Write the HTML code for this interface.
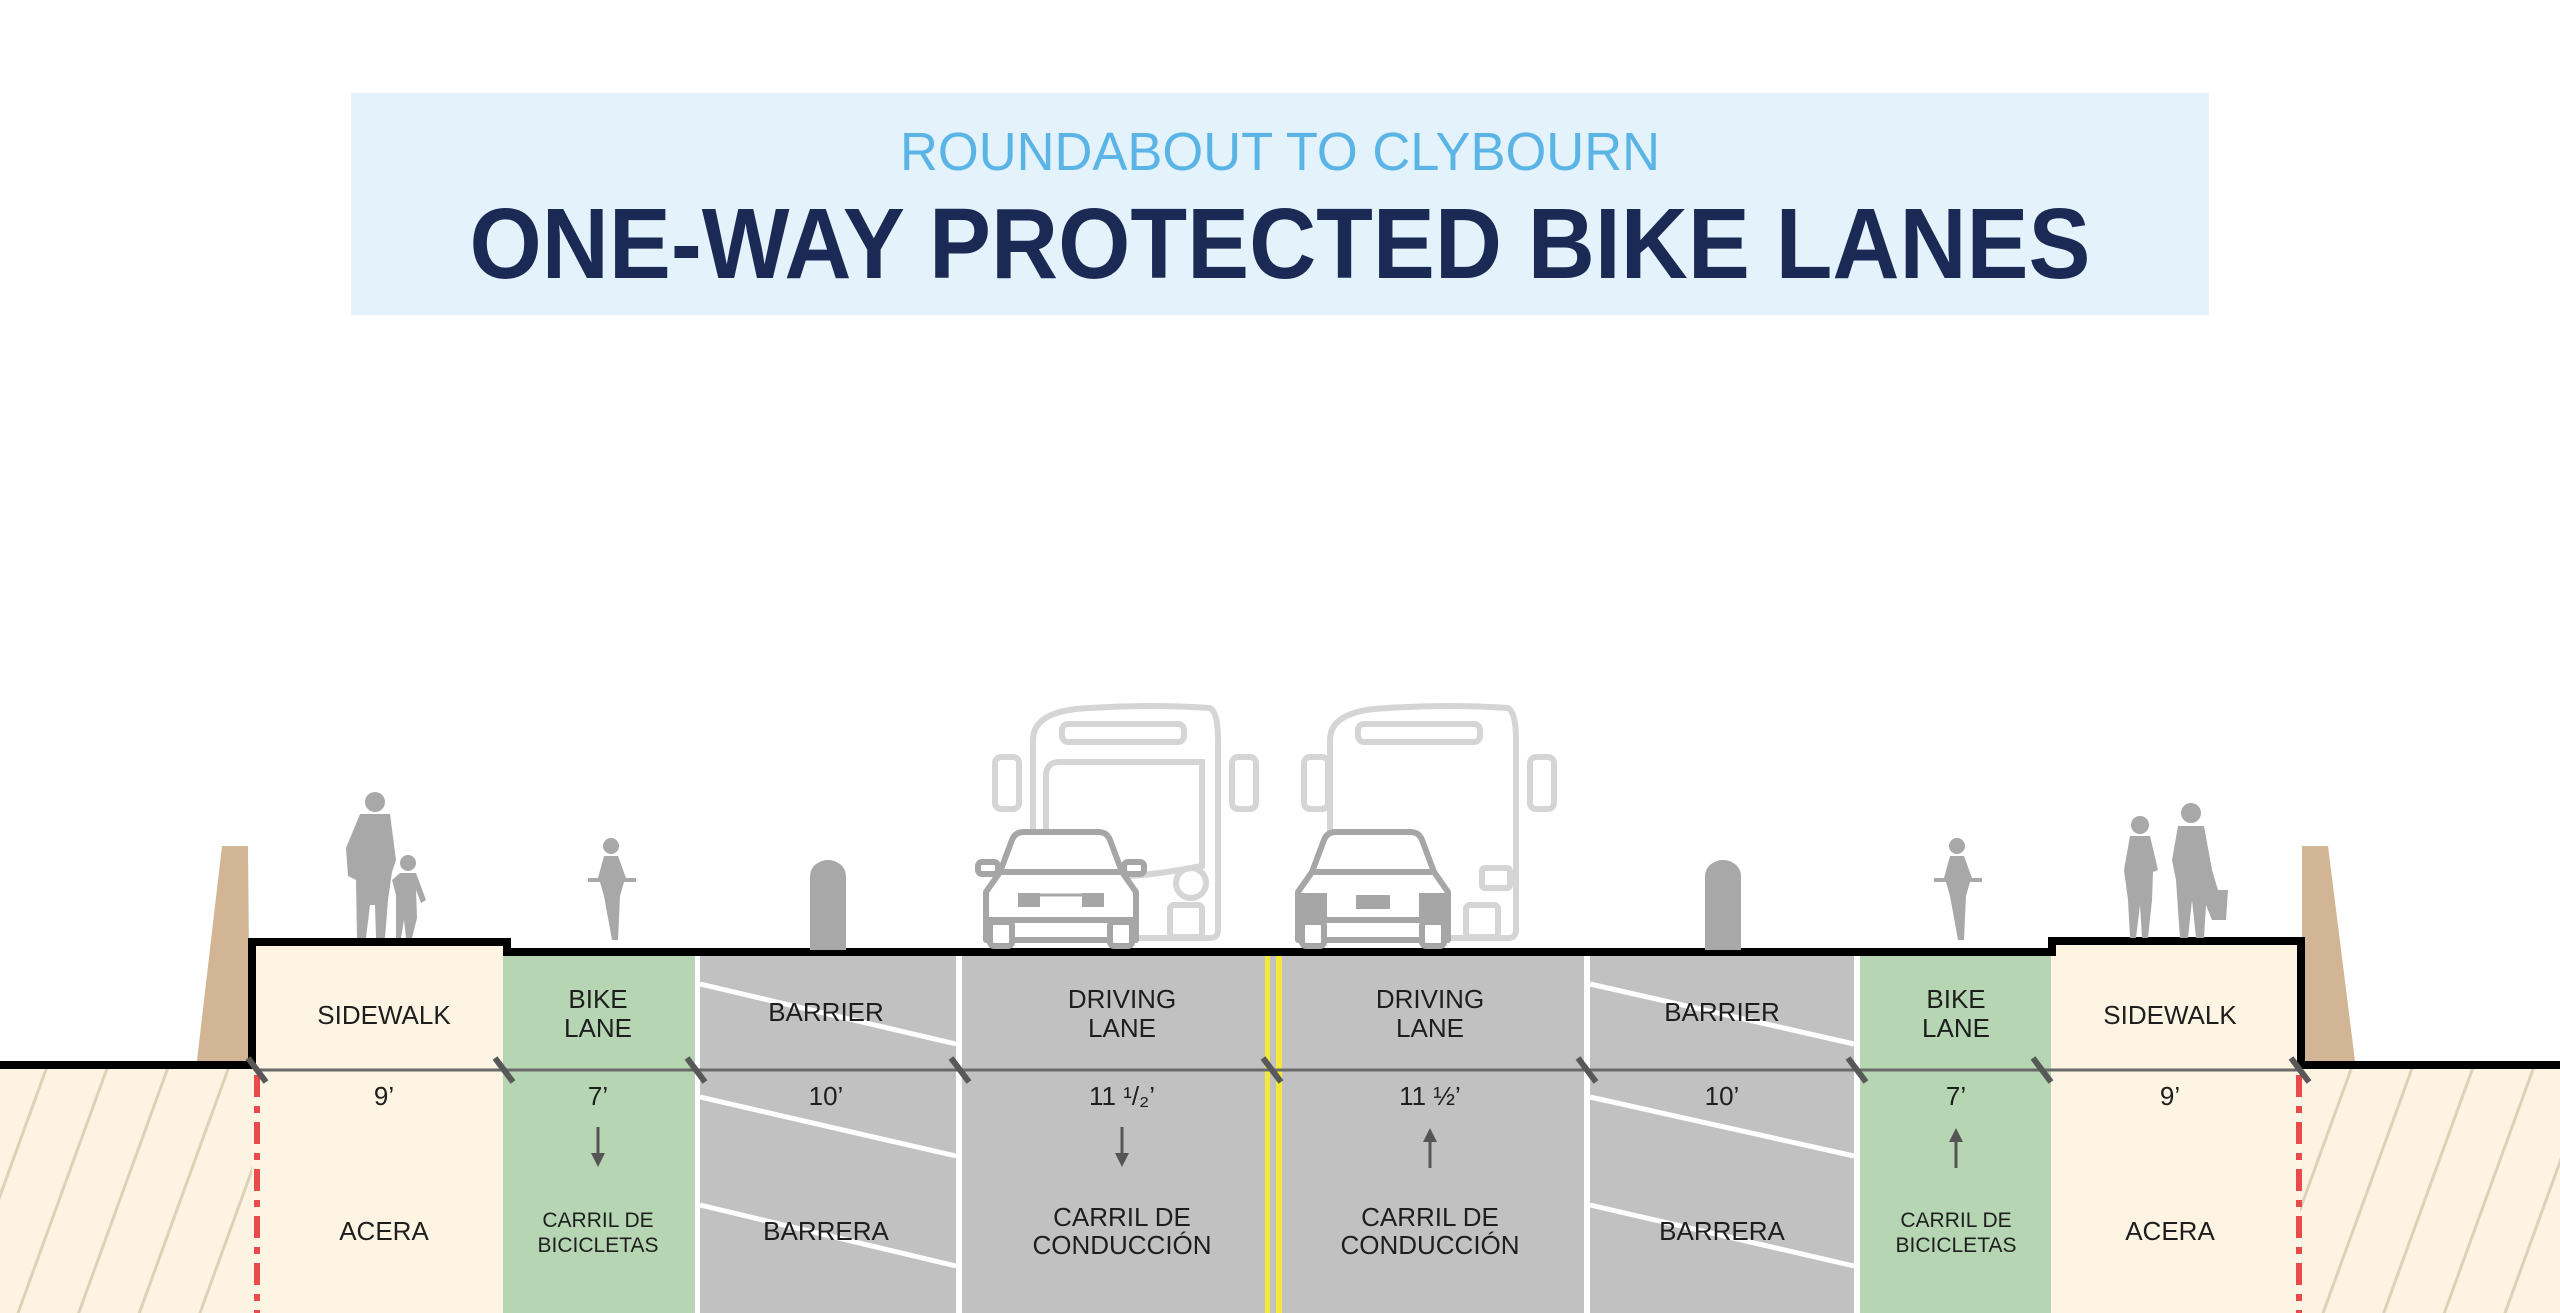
<!DOCTYPE html>
<html><head><meta charset="utf-8"><style>
html,body{margin:0;padding:0;background:#fff;}
svg{display:block;}
.t{font-family:"Liberation Sans Narrow","Liberation Sans",sans-serif;fill:#1e1e1e;text-anchor:middle;}
</style></head><body>
<svg width="2560" height="1313" viewBox="0 0 2560 1313" xmlns="http://www.w3.org/2000/svg">
<defs>
<pattern id="hatch" width="57" height="57" patternUnits="userSpaceOnUse" patternTransform="rotate(20)">
<rect width="57" height="57" fill="#fcf3e2"/>
<line x1="10" y1="0" x2="10" y2="57" stroke="#dfd0b8" stroke-width="3"/>
</pattern>
</defs>
<rect x="351" y="93" width="1858" height="222" fill="#e4f2fc"/>
<text x="1280" y="170" text-anchor="middle" font-family="Liberation Sans, sans-serif" font-size="54" fill="#5ab4e6" textLength="760" lengthAdjust="spacingAndGlyphs">ROUNDABOUT TO CLYBOURN</text>
<text x="1280" y="278" text-anchor="middle" font-family="Liberation Sans, sans-serif" font-weight="bold" font-size="100" fill="#1b2a55" textLength="1621" lengthAdjust="spacingAndGlyphs">ONE-WAY PROTECTED BIKE LANES</text>

<rect x="0" y="1069" width="252" height="244" fill="url(#hatch)"/>
<rect x="2300" y="1069" width="260" height="244" fill="url(#hatch)"/>
<rect x="252" y="942" width="252" height="371" fill="#fdf4e3"/>
<rect x="503" y="953" width="192" height="360" fill="#b5d5b3"/>
<rect x="695" y="953" width="1165" height="360" fill="#fff"/>
<rect x="700" y="953" width="256" height="360" fill="#c1c1c1"/>
<rect x="962" y="953" width="301" height="360" fill="#c1c1c1"/>
<rect x="1263" y="953" width="20" height="360" fill="#c1c1c1"/>
<rect x="1265" y="953" width="5" height="360" fill="#f3e83a"/>
<rect x="1276" y="953" width="6" height="360" fill="#f3e83a"/>
<rect x="1283" y="953" width="301" height="360" fill="#c1c1c1"/>
<rect x="1590" y="953" width="264" height="360" fill="#c1c1c1"/>
<rect x="1860" y="953" width="192" height="360" fill="#b5d5b3"/>
<rect x="2051" y="942" width="248" height="371" fill="#fdf4e3"/>
<g stroke="#fff" stroke-width="5">
<line x1="700" y1="984" x2="956" y2="1044"/>
<line x1="700" y1="1097" x2="956" y2="1156"/>
<line x1="700" y1="1205" x2="956" y2="1266"/>
<line x1="1590" y1="984" x2="1854" y2="1044"/>
<line x1="1590" y1="1097" x2="1854" y2="1156"/>
<line x1="1590" y1="1205" x2="1854" y2="1266"/>
</g>
<polygon points="222,846 248,846 250,1069 196,1069" fill="#d2b594"/>
<polygon points="2302,846 2328,846 2356,1069 2302,1069" fill="#d2b594"/>
<line x1="257" y1="1075" x2="257" y2="1313" stroke="#e94b4b" stroke-width="6" stroke-dasharray="22,9,7,9"/>
<line x1="2299" y1="1075" x2="2299" y2="1313" stroke="#e94b4b" stroke-width="6" stroke-dasharray="22,9,7,9"/>
<polyline points="0,1065 252,1065 252,942 507,942 507,952 2052,952 2052,941 2301,941 2301,1065 2560,1065" fill="none" stroke="#000" stroke-width="8"/>
<line x1="256" y1="1070" x2="2300" y2="1070" stroke="#6a6a6a" stroke-width="3"/>
<g stroke="#585858" stroke-width="6">
<line x1="248" y1="1058" x2="266" y2="1082"/>
<line x1="495" y1="1058" x2="513" y2="1082"/>
<line x1="687" y1="1058" x2="705" y2="1082"/>
<line x1="951" y1="1058" x2="969" y2="1082"/>
<line x1="1263" y1="1058" x2="1281" y2="1082"/>
<line x1="1578" y1="1058" x2="1596" y2="1082"/>
<line x1="1848" y1="1058" x2="1866" y2="1082"/>
<line x1="2033" y1="1058" x2="2051" y2="1082"/>
<line x1="2291" y1="1058" x2="2309" y2="1082"/>
</g>
<g class="t" font-size="26">
<text x="384" y="1024" class="t">SIDEWALK</text>
<text x="598" y="1008" class="t">BIKE</text><text x="598" y="1037" class="t">LANE</text>
<text x="826" y="1021" class="t">BARRIER</text>
<text x="1122" y="1008" class="t">DRIVING</text><text x="1122" y="1037" class="t">LANE</text>
<text x="1430" y="1008" class="t">DRIVING</text><text x="1430" y="1037" class="t">LANE</text>
<text x="1722" y="1021" class="t">BARRIER</text>
<text x="1956" y="1008" class="t">BIKE</text><text x="1956" y="1037" class="t">LANE</text>
<text x="2170" y="1024" class="t">SIDEWALK</text>
<text x="384" y="1105" class="t">9’</text>
<text x="598" y="1105" class="t">7’</text>
<text x="826" y="1105" class="t">10’</text>
<text x="1122" y="1105" class="t">11 ¹/₂’</text>
<text x="1430" y="1105" class="t">11 ½’</text>
<text x="1722" y="1105" class="t">10’</text>
<text x="1956" y="1105" class="t">7’</text>
<text x="2170" y="1105" class="t">9’</text>
<text x="384" y="1240" class="t">ACERA</text>
<text x="826" y="1240" class="t">BARRERA</text>
<text x="1722" y="1240" class="t">BARRERA</text>
<text x="2170" y="1240" class="t">ACERA</text>
<text x="1956" y="1227" class="t" font-size="21">CARRIL DE</text><text x="1956" y="1252" class="t" font-size="21">BICICLETAS</text>
<text x="598" y="1227" class="t" font-size="21">CARRIL DE</text><text x="598" y="1252" class="t" font-size="21">BICICLETAS</text>
<text x="1122" y="1226" class="t">CARRIL DE</text><text x="1122" y="1254" class="t">CONDUCCIÓN</text>
<text x="1430" y="1226" class="t">CARRIL DE</text><text x="1430" y="1254" class="t">CONDUCCIÓN</text>
</g>
<g fill="#555" stroke="#555" stroke-width="3">
<line x1="598" y1="1127" x2="598" y2="1155"/><polygon points="591,1153 605,1153 598,1167" stroke="none"/>
<line x1="1122" y1="1127" x2="1122" y2="1155"/><polygon points="1115,1153 1129,1153 1122,1167" stroke="none"/>
<line x1="1430" y1="1140" x2="1430" y2="1168"/><polygon points="1423,1142 1437,1142 1430,1128" stroke="none"/>
<line x1="1956" y1="1140" x2="1956" y2="1168"/><polygon points="1949,1142 1963,1142 1956,1128" stroke="none"/>
</g>
<path d="M810,950 V876 A18,16 0 0 1 846,876 V950 Z" fill="#a8a8a8"/>
<path d="M1705,950 V876 A18,16 0 0 1 1741,876 V950 Z" fill="#a8a8a8"/>
<g fill="#a8a8a8">
<circle cx="375" cy="802" r="10"/>
<path d="M360,814 H390 L396,860 L392,872 L388,900 L385,938 H376 L375,905 L370,905 L366,938 H357 L356,880 L348,876 L346,848 Z"/>
<circle cx="408" cy="863" r="8"/>
<path d="M400,873 H416 L426,900 L421,903 L416,890 L417,918 L412,938 H406 L404,920 L401,938 H396 L396,895 L392,880 Z"/>
<circle cx="611" cy="846" r="8"/>
<path d="M604,856 H618 L626,878 H636 V882 H624 L620,896 L618,940 H612 L604,896 L600,882 H588 V878 H598 Z"/>
<circle cx="1957" cy="846" r="8"/>
<path d="M1950,856 H1964 L1972,878 H1982 V882 H1970 L1966,896 L1964,940 H1958 L1950,896 L1946,882 H1934 V878 H1944 Z"/>
<circle cx="2140" cy="825" r="9"/>
<path d="M2130,836 H2150 L2158,870 L2153,872 L2152,900 L2148,938 H2142 L2140,905 L2136,938 H2130 L2128,900 L2124,870 Z"/>
<circle cx="2191" cy="813" r="10"/>
<path d="M2178,826 H2204 L2212,870 L2218,890 H2228 L2226,920 H2212 L2206,905 L2204,938 H2196 L2192,900 L2188,938 H2180 L2176,880 L2172,860 Z"/>
</g>
<g fill="none" stroke="#d5d5d5" stroke-width="6" stroke-linecap="round">
<path d="M1033,938 V740 Q1033,710 1090,708 Q1150,704 1210,708 Q1218,712 1218,740 V930 Q1218,938 1210,938 Z"/>
<rect x="1062" y="724" width="122" height="18" rx="6"/>
<path d="M1046,840 V776 Q1046,762 1060,762 H1202 V866 Q1160,874 1130,876"/>
<rect x="995" y="757" width="24" height="52" rx="6"/><rect x="1232" y="757" width="24" height="52" rx="6"/>
<circle cx="1191" cy="883" r="15"/>
<rect x="1170" y="905" width="32" height="32" rx="4"/>
<path d="M1330,938 V740 Q1330,710 1388,708 Q1448,704 1508,708 Q1516,712 1516,740 V930 Q1516,938 1508,938 Z"/>
<rect x="1358" y="724" width="122" height="18" rx="6"/>
<rect x="1304" y="757" width="24" height="52" rx="6"/><rect x="1530" y="757" width="24" height="52" rx="6"/>
<rect x="1482" y="868" width="28" height="20" rx="3"/>
<rect x="1466" y="905" width="32" height="32" rx="4"/>
</g>
<g fill="#fff" stroke="#a6a6a6" stroke-width="6" stroke-linejoin="round">
<path d="M1000,872 L1012,840 Q1015,832 1024,832 H1098 Q1107,832 1110,840 L1122,872 L1136,892 V940 H986 V892 Z"/>
<path d="M1002,872 H1120"/>
<path d="M988,920 H1134"/>
<rect x="990" y="922" width="22" height="24" rx="4"/><rect x="1110" y="922" width="22" height="24" rx="4"/>
<line x1="1030" y1="895" x2="1092" y2="895" stroke-width="3"/>
<rect x="978" y="862" width="20" height="12" rx="4"/><rect x="1124" y="862" width="20" height="12" rx="4"/>
<path d="M1312,872 L1324,840 Q1327,832 1336,832 H1410 Q1419,832 1422,840 L1434,872 L1448,892 V940 H1298 V892 Z"/>
<path d="M1314,872 H1432"/>
<path d="M1300,920 H1446"/>
<rect x="1302" y="922" width="22" height="24" rx="4"/><rect x="1422" y="922" width="22" height="24" rx="4"/>
</g>
<rect x="1301" y="893" width="26" height="24" fill="#a6a6a6"/><rect x="1419" y="893" width="26" height="24" fill="#a6a6a6"/>
<rect x="1356" y="895" width="34" height="14" fill="#a6a6a6"/>
<rect x="1018" y="893" width="22" height="14" fill="#a6a6a6"/><rect x="1082" y="893" width="22" height="14" fill="#a6a6a6"/>
</svg>
</body></html>
